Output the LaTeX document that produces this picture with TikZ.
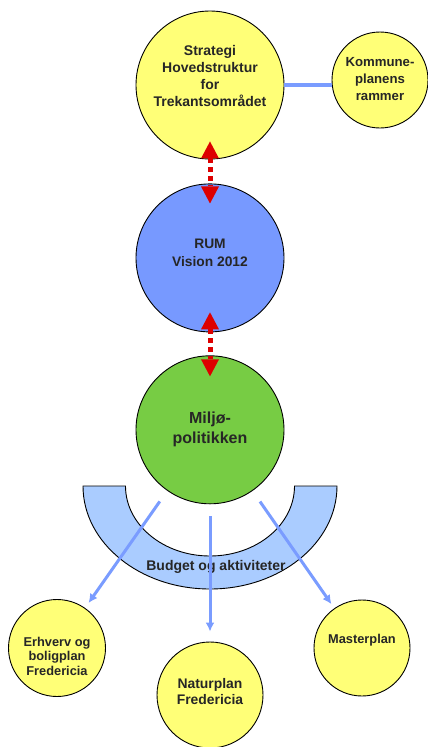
\documentclass[tikz,border=0pt]{standalone}
\usepackage{fontspec}
\setmainfont{Liberation Sans}
\usetikzlibrary{arrows.meta,calc,positioning}

\definecolor{plangul}{RGB}{255,255,119}
\definecolor{rumblaa}{RGB}{119,153,255}
\definecolor{miljogroen}{RGB}{119,204,68}
\definecolor{budgetblaa}{RGB}{170,204,255}
\definecolor{pilblaa}{RGB}{122,156,255}
\definecolor{pilroed}{RGB}{221,0,0}
\definecolor{tekstgraa}{RGB}{38,38,38}

\begin{document}
\begin{tikzpicture}[
      x=1pt,y=-1pt,
      plan/.style={circle,draw,line width=0.9pt,minimum size=#1,inner sep=0pt},
      plan/.default=148pt,
      txt/.style={align=center,text=tekstgraa,font=\bfseries\fontsize{14}{17}\selectfont},
      smalltxt/.style={txt,font=\bfseries\fontsize{12.8}{14.5}\selectfont},
      link/.style={pilroed,line width=5pt,dash pattern=on 5pt off 4pt,
        {Triangle[length=17pt,width=18pt,line width=0pt]}-{Triangle[length=17pt,width=18pt,line width=0pt]}},
      flow/.style={->,pilblaa,line width=3pt},
      >={Latex[length=9pt,width=9pt]}
    ]
    \useasboundingbox (0,0) rectangle (428,747);

    % Budget band
    \draw[fill=budgetblaa,line width=0.9pt]
      (83,486) arc[start angle=180,end angle=0,x radius=127,y radius=103]
      -- (294.5,486) arc[start angle=0,end angle=180,x radius=84.5,y radius=70] -- cycle;
    \node[txt] (budget) at (216,567) {Budget og aktiviteter};

    % Strategy column
    \node[plan,fill=plangul] (strat) at (210,85) {};
    \node[plan,fill=rumblaa,below=24pt of strat] (rum) {};
    \node[plan,fill=miljogroen,below=23pt of rum] (milj) {};
    \node[txt] (strat-txt) at ($(strat)+(0,-9)$) {Strategi\\Hovedstruktur\\for\\Trekantsområdet};
    \node[txt,font=\bfseries\fontsize{13.8}{18}\selectfont] (rum-txt) at ($(rum)+(0,-5)$) {RUM\\Vision 2012};
    \node[txt,font=\bfseries\fontsize{16}{20}\selectfont] (milj-txt) at (milj) {Miljø-\\politikken};

    % Kommuneplan
    \node[plan=96pt,fill=plangul] (komm) at (380,80) {};
    \node[txt,font=\bfseries\fontsize{13.2}{17}\selectfont] (komm-txt) at ($(komm)+(0,-1)$) {Kommune-\\planens\\rammer};
    \draw[pilblaa,line width=4.5pt] (strat.east) -- (strat.east -| komm.west);

    % Plans
    \node[plan=97pt,fill=plangul] (erhv) at (57,648) {};
    \node[plan=106pt,fill=plangul] (natur) at (210,695) {};
    \node[plan=96pt,fill=plangul] (master) at (362,648) {};
    \node[smalltxt] (erhv-txt) at ($(erhv)+(0,8)$) {Erhverv og\\boligplan\\Fredericia};
    \node[txt,font=\bfseries\fontsize{13.9}{16}\selectfont] (natur-txt) at ($(natur)+(0,-3)$) {Naturplan\\Fredericia};
    \node[smalltxt] (master-txt) at ($(master)+(0,-8)$) {Masterplan};

    \draw[flow,shorten <=13pt,shorten >=6pt] (milj) -- (erhv);
    \draw[flow,shorten <=12pt,shorten >=10pt] (milj) -- (natur);
    \draw[flow,shorten <=13pt,shorten >=5pt] (milj) -- (master);

    % Links
    \draw[link,shorten <=-18pt,shorten >=-20pt] (strat.south) -- (rum.north);
    \draw[link,shorten <=-20pt,shorten >=-21pt] (rum.south) -- (milj.north);
  \end{tikzpicture}
\end{document}
